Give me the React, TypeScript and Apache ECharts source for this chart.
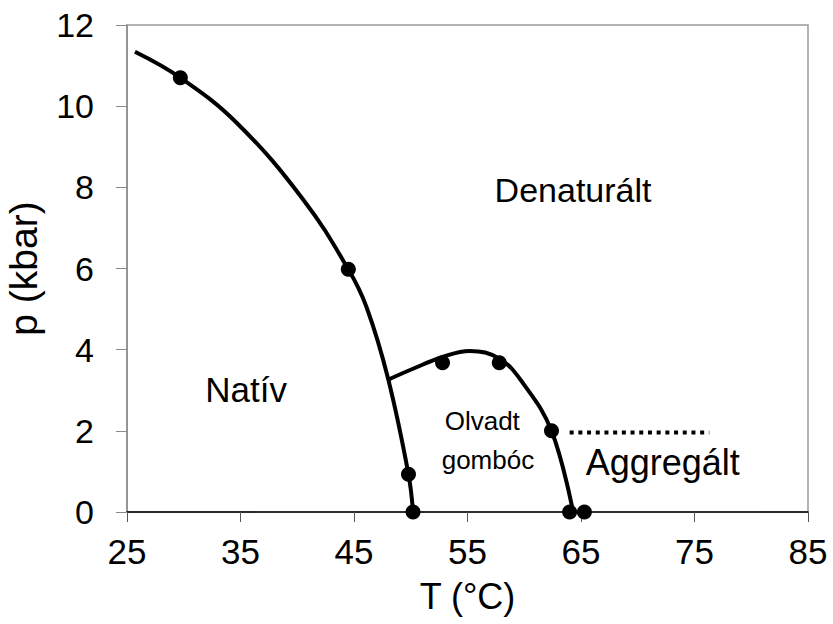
import React, { useEffect, useRef } from "react";
import * as echarts from "echarts";

// Axis ranges / ticks
const xMin = 25, xMax = 85, xStep = 10;
const yMin = 0, yMax = 12, yStep = 2;

// Phase boundary: native / denatured (main curve)
const mainCurve: [number, number][] = [
  [25.7, 11.34], [29.7, 10.7], [34.7, 9.58], [40.55, 7.69], [44.5, 5.98],
  [46.1, 5.05], [48.0, 3.29], [49.8, 0.93], [50.2, 0],
];

// Molten globule dome boundary
const domeCurve: [number, number][] = [
  [48.0, 3.26], [50.2, 3.53], [52.8, 3.82], [55.2, 3.97], [57.8, 3.78],
  [59.9, 3.17], [62.4, 2.0], [64.3, 0],
];

// Measured points
const measured: [number, number][] = [
  [29.7, 10.7], [44.5, 5.98], [49.8, 0.93], [50.2, 0], [52.8, 3.68],
  [57.8, 3.68], [62.4, 2.0], [64.0, 0], [65.3, 0],
];

// Aggregation dotted boundary
const aggregLine: [number, number][] = [[64.0, 1.96], [76.3, 1.96]];

// Region labels
const regionNames = ["Denaturált", "Natív", "Olvadt", "gombóc", "Aggregált"];
const regionPos: [number, number][] = [[64.3, 7.93], [35.5, 3.03], [56.3, 2.25], [56.8, 1.28], [72.2, 1.23]];
const regionSizes = [34, 35, 26, 26, 36];

const FONT = "'Liberation Sans', Arial, Helvetica, sans-serif";

export default function App() {
  const ref = useRef<HTMLDivElement>(null);
  useEffect(() => {
    if (!ref.current) return;
    const chart = echarts.init(ref.current, null, { renderer: "svg" });
    chart.setOption({
      animation: false,
      backgroundColor: "#ffffff",
      textStyle: { fontFamily: FONT },
      grid: {
        left: 127, right: 25, top: 25, bottom: 112,
        outerBoundsMode: "none", containLabel: false,
        show: true, borderColor: "#9a9a9a", borderWidth: 1.5, backgroundColor: "transparent",
      },
      xAxis: {
        type: "value", min: xMin, max: xMax, interval: xStep,
        name: "T (°C)", nameLocation: "middle", nameGap: 66,
        nameTextStyle: { fontSize: 36, color: "#000", fontFamily: FONT },
        axisLine: { show: true, onZero: false, lineStyle: { color: "#000", width: 1.5 } },
        axisTick: { show: true, inside: false, length: 10, lineStyle: { color: "#555", width: 1 } },
        axisLabel: { fontSize: 35, color: "#000", margin: 22, fontFamily: FONT },
        splitLine: { show: false },
      },
      yAxis: {
        type: "value", min: yMin, max: yMax, interval: yStep,
        name: "p (kbar)", nameLocation: "middle", nameGap: 84, nameRotate: 90,
        nameTextStyle: { fontSize: 39, color: "#000", fontFamily: FONT },
        axisLine: { show: true, lineStyle: { color: "#8a8a8a", width: 1.5 } },
        axisTick: { show: true, inside: false, length: 11, lineStyle: { color: "#8a8a8a", width: 1 } },
        axisLabel: { fontSize: 34, color: "#000", margin: 33, fontFamily: FONT },
        splitLine: { show: false },
      },
      series: [
        {
          type: "line", data: mainCurve, smooth: 0.4, showSymbol: false, symbol: "none",
          lineStyle: { color: "#000", width: 4 }, z: 3,
        },
        {
          type: "line", data: domeCurve, smooth: 0.4, showSymbol: false, symbol: "none",
          lineStyle: { color: "#000", width: 4 }, z: 3,
        },
        {
          type: "line", data: aggregLine, showSymbol: false, symbol: "none",
          lineStyle: { color: "#000", width: 4, type: [4, 4.7] }, z: 3,
        },
        {
          type: "scatter", data: measured, symbol: "circle", symbolSize: 15,
          itemStyle: { color: "#000", opacity: 1 }, z: 4,
        },
        {
          type: "scatter", symbolSize: 0, silent: true, z: 5,
          itemStyle: { opacity: 1 },
          data: regionNames.map((n, i) => ({
            value: regionPos[i],
            label: {
              show: true, formatter: n, position: "inside", fontSize: regionSizes[i],
              color: "#000", fontFamily: FONT, align: "center", verticalAlign: "middle",
            },
          })),
        },
      ],
    });
    return () => chart.dispose();
  }, []);
  return <div ref={ref} style={{ width: 833, height: 624, position: "absolute", left: 0, top: 0 }} />;
}
